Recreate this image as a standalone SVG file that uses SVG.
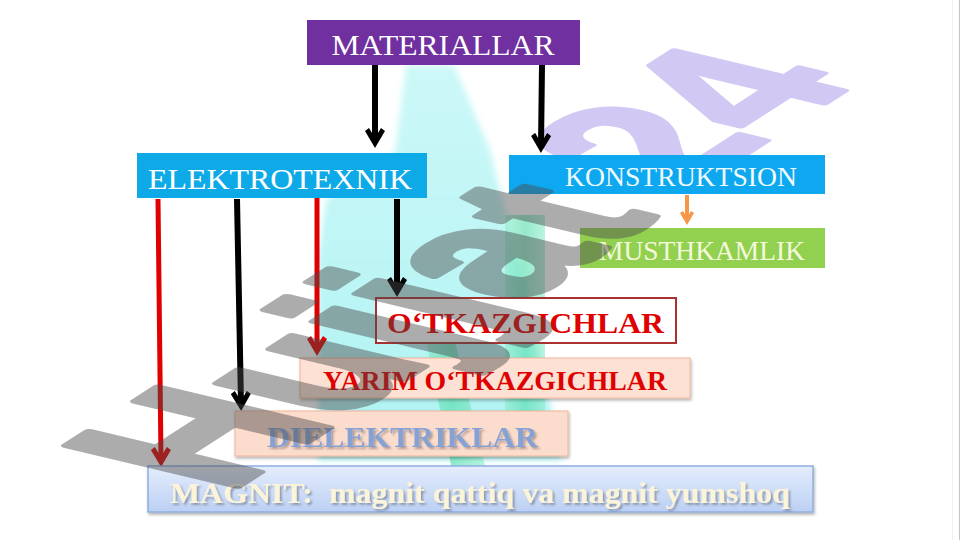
<svg xmlns="http://www.w3.org/2000/svg" width="961" height="540" viewBox="0 0 961 540">
<defs>
<style>
.t{font-family:"Liberation Serif","Times New Roman",serif;text-anchor:middle;}
.b{font-weight:bold;}
.wm{font-family:"Liberation Sans",Arial,sans-serif;font-weight:bold;font-size:100px;stroke-linejoin:round;}
.conn line{fill:none;}
.blk{stroke:#000;stroke-width:6;}
.red{stroke:#e00000;stroke-width:5;}
.org{stroke:#f79646;stroke-width:4;}
</style>
<marker id="ahBlack" markerUnits="userSpaceOnUse" viewBox="0 0 20 20" markerWidth="20" markerHeight="20" refX="12" refY="10" orient="auto"><path d="M20,10 L3,0 L0,4 L10,10 L0,16 L3,20 Z" fill="#000"/></marker>
<marker id="ahRed" markerUnits="userSpaceOnUse" viewBox="0 0 20 20" markerWidth="20" markerHeight="20" refX="12" refY="10" orient="auto"><path d="M20,10 L3,0 L0,4 L10,10 L0,16 L3,20 Z" fill="#e00000"/></marker>
<marker id="ahOrg" markerUnits="userSpaceOnUse" viewBox="0 0 14 14" markerWidth="14" markerHeight="14" refX="7" refY="7" orient="auto"><path d="M14,7 L2,0 L0,3 L7,7 L0,11 L2,14 Z" fill="#f79646"/></marker>
<linearGradient id="gMag" x1="0" y1="0" x2="0" y2="1"><stop offset="0" stop-color="#e4edfc"/><stop offset="1" stop-color="#bcd0f4"/></linearGradient>
<linearGradient id="gGreen" x1="0" y1="0" x2="1" y2="0"><stop offset="0" stop-color="#8eeccc"/><stop offset="0.5" stop-color="#4fdca8"/><stop offset="1" stop-color="#8eeccc"/></linearGradient>
<linearGradient id="gCyan" x1="0" y1="0" x2="0" y2="1"><stop offset="0" stop-color="#cdf8f8"/><stop offset="1" stop-color="#aef2f2"/></linearGradient>
<filter id="sh" x="-5%" y="-20%" width="110%" height="150%"><feDropShadow dx="1" dy="2" stdDeviation="1.5" flood-color="#000" flood-opacity="0.3"/></filter>
<filter id="tsh" x="-5%" y="-20%" width="110%" height="150%"><feDropShadow dx="2" dy="2" stdDeviation="1" flood-color="#000" flood-opacity="0.3"/></filter>
<filter id="blur"><feGaussianBlur stdDeviation="3"/></filter>
</defs>
<rect width="961" height="540" fill="#fff"/>
<line x1="952.5" y1="0" x2="952.5" y2="540" stroke="#f0f0f0"/>
<line x1="959.5" y1="0" x2="959.5" y2="540" stroke="#c4c4c4"/>

<g id="background">
<path d="M406,65 L454,65 L490,150 L525,290 L562,460 L318,460 L318,260 L326,200 L395,152 Z" fill="url(#gCyan)" filter="url(#blur)"/>
<path d="M505,215 L545,215 L545,412 L505,412 Z" fill="url(#gGreen)" opacity="0.6"/>
<path d="M418,300 L445,300 L486,470 L452,470 Z" fill="url(#gGreen)" opacity="0.6"/>
<g opacity="0.33"><text class="wm" transform="matrix(1.554 -0.999 2.48 0.59 687 192)" fill="#7a5ae0" stroke="#7a5ae0" stroke-width="3">24</text></g>
</g>

<g id="connectors" class="conn">
<line class="blk" x1="375" y1="65" x2="375" y2="140" marker-end="url(#ahBlack)"/>
<line class="blk" x1="542" y1="65" x2="541" y2="145" marker-end="url(#ahBlack)"/>
<line class="org" x1="687" y1="195" x2="687" y2="218" marker-end="url(#ahOrg)"/>
<line class="red" x1="158" y1="199" x2="161" y2="459" marker-end="url(#ahRed)"/>
<line class="blk" x1="237" y1="199" x2="241" y2="403" marker-end="url(#ahBlack)"/>
<line class="red" x1="317" y1="196" x2="317" y2="348" marker-end="url(#ahRed)"/>
<line class="blk" x1="397" y1="199" x2="397" y2="289" marker-end="url(#ahBlack)"/>
</g>

<g id="materiallar">
<rect x="307" y="20" width="273" height="45" fill="#7030a0"/>
<text class="t" x="443" y="55" font-size="30" fill="#fff" textLength="223" lengthAdjust="spacingAndGlyphs">MATERIALLAR</text>
</g>
<g id="elektrotexnik">
<rect x="137" y="153" width="290" height="45" fill="#0eaae8"/>
<text class="t" x="280" y="189" font-size="30" fill="#fff" textLength="264" lengthAdjust="spacingAndGlyphs">ELEKTROTEXNIK</text>
</g>
<g id="konstruktsion">
<rect x="509" y="155" width="316" height="39" fill="#0ea8f0"/>
<text class="t" x="681" y="186" font-size="27" fill="#f0fbff" textLength="232" lengthAdjust="spacingAndGlyphs">KONSTRUKTSION</text>
</g>
<g id="musthkamlik">
<rect x="580" y="228" width="245" height="40" fill="#92d050"/>
<text class="t" x="702" y="260" font-size="27" fill="#f4f9dc" textLength="206" lengthAdjust="spacingAndGlyphs">MUSTHKAMLIK</text>
</g>
<g id="otkazgichlar">
<rect x="376" y="298" width="300" height="45" fill="#fff" stroke="#a83232" stroke-width="2"/>
<text class="t b" x="525.5" y="333" font-size="30" fill="#e00000" textLength="277" lengthAdjust="spacingAndGlyphs">O‘TKAZGICHLAR</text>
</g>
<g id="yarim">
<rect x="300" y="358" width="390" height="40" fill="#fde1d4" stroke="#f0b49a" stroke-width="1" filter="url(#sh)"/>
<text class="t b" x="495" y="390" font-size="27" fill="#e00000" textLength="344" lengthAdjust="spacingAndGlyphs">YARIM O‘TKAZGICHLAR</text>
</g>
<g id="dielektriklar">
<rect x="235" y="411" width="333" height="45" fill="#fcdccc" stroke="#f0b49a" stroke-width="1" filter="url(#sh)"/>
<text class="t b" x="402.5" y="447" font-size="30" fill="#86a2d5" filter="url(#tsh)" textLength="271" lengthAdjust="spacingAndGlyphs">DIELEKTRIKLAR</text>
</g>
<g id="magnit">
<rect x="148" y="466" width="665" height="46" fill="url(#gMag)" stroke="#90aee0" stroke-width="1.5" filter="url(#sh)"/>
<text class="t b" x="480" y="503" font-size="30" fill="#fcf4d9" filter="url(#tsh)" textLength="620" lengthAdjust="spacingAndGlyphs">MAGNIT:&#160; magnit qattiq va magnit yumshoq</text>
</g>

<g id="watermark" opacity="0.45">
<text class="wm" transform="matrix(1.554 -0.999 2.48 0.59 227 493)" fill="#4a4a4a" stroke="#4a4a4a" stroke-width="4">Hujjat</text>
</g>
</svg>
